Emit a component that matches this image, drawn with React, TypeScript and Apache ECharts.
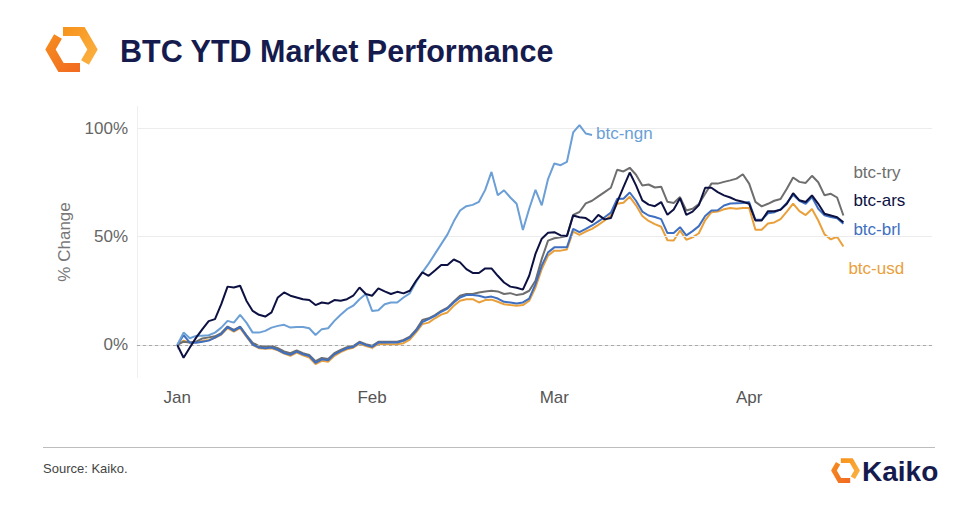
import React, { useEffect, useRef } from 'react';
import * as echarts from 'echarts';

// ---- data (daily % change since Jan 1, 2024) ----
const startYear = 2024;
const monthNames = ['Jan', 'Feb', 'Mar', 'Apr', 'May', 'Jun', 'Jul', 'Aug', 'Sep', 'Oct', 'Nov', 'Dec'];
const yTickLabels = [0, 50, 100];

const btcNgn = [
  0, 5.7, 3.1, 4.2, 4.2, 4.5, 5.7, 8, 11.1, 10.3,
  13.9, 10.3, 5.7, 5.7, 6.5, 8, 8.8, 9.3, 8, 8.3,
  8.3, 7.7, 4.6, 7.3, 7.7, 11.1, 13.9, 16.5, 18.1, 21.1,
  23.5, 15.7, 16, 18.8, 19.6, 19.6, 21.9, 23.8, 29, 33.5,
  37.5, 42, 46.5, 51, 57, 62, 64, 64.6, 66, 71.5,
  79.8, 69, 71.3, 68, 65.1, 53, 62.8, 71.5, 64.4, 76.5,
  83.7, 82.9, 84.4, 98, 101.4, 97.5, 96.8,
];

const btcTry = [
  0, 1.5, 1.1, 1.5, 3, 3.5, 4, 5.5, 8.5, 7,
  8.5, 4.5, 1, -0.5, -0.8, -0.5, -1.5, -3, -3.8, -2.5,
  -3.8, -4.6, -7.5, -6, -6.5, -3.8, -2.3, -1, -0.5, 1.5,
  0.4, -0.4, 1.5, 1.5, 1.5, 1.5, 2.3, 3.8, 7, 11.5,
  12.3, 13.8, 15.7, 17.2, 20, 22.7, 23.5, 23.5, 24.2, 24.7,
  25, 24.7, 23.5, 23.9, 23, 23.5, 25, 29.6, 39.7, 48.1,
  49.2, 49.7, 50.2, 60, 61.3, 65.3, 66.5, 68.5, 70.5, 72.5,
  80.8, 80, 81.7, 78.5, 73.5, 74, 72.6, 73, 66, 65.5,
  68.2, 62, 62.8, 65, 69.7, 74.4, 74.4, 75.2, 75.9, 76.7,
  78.7, 74.4, 66, 63.9, 65.1, 66.5, 67.3, 72, 77.2, 75.2,
  74.7, 78, 75, 69, 69.7, 68, 59.7,
];

const btcArs = [
  0, -5.9, -1.2, 3.4, 7.3, 11, 11.9, 18.8, 26.9, 26.5,
  27.3, 20.4, 15.7, 13.9, 13.1, 15, 21.9, 24.2, 22.7, 21.9,
  21.1, 20.7, 18.4, 19.6, 19.1, 20.7, 20.4, 21.1, 22.7, 26.5,
  23.5, 22.7, 26.1, 24.7, 23.5, 24.5, 23.8, 25, 29.6, 33.5,
  31.9, 34.3, 36.9, 36.9, 39.4, 38.1, 35, 33.2, 33.2, 35.3,
  35.3, 31.9, 28.8, 26.9, 26.4, 25.5, 31.9, 42, 49, 51.7,
  52, 50.5, 50.2, 59.7, 58.9, 58.5, 56.6, 60, 57.9, 58.5,
  65.9, 72.8, 79.5, 73.6, 66.7, 64.7, 64, 65.9, 60, 62.5,
  67.7, 60, 61.5, 64.5, 72.5, 72.5, 70.5, 69, 68, 66.7,
  66, 65.1, 57.4, 57.4, 61.7, 61.7, 62.3, 65.1, 70, 66.7,
  65.9, 69, 65.1, 60.5, 59.7, 58.9, 56.6,
];

const btcBrl = [
  0, 4.5, 1.1, 1, 1.5, 2, 3.4, 5, 8.3, 6.5,
  8.3, 4.2, 0.2, -1.2, -1.5, -1.2, -2.2, -3.7, -4.5, -3.1,
  -4.3, -5.1, -8.2, -6.6, -7.1, -4.3, -2.8, -1.5, -0.9, 1.1,
  0, -0.9, 1.1, 1.1, 1.1, 1.1, 1.9, 3.4, 6.5, 10.5,
  11.9, 13.4, 15.3, 16.8, 19.6, 21.9, 23, 23, 22.7, 21.9,
  22.3, 21.4, 19.9, 19.6, 19.1, 19.6, 21.4, 28.1, 36.6, 42.7,
  45, 45, 45, 53.5, 52, 53.5, 55.1, 57, 58.9, 61,
  67.4, 67.4, 70.3, 66.5, 61.5, 59.7, 59, 58, 51.6, 51.6,
  54.3, 50.5, 52.5, 54.8, 59.5, 62, 62.1, 64.3, 65.2, 65.4,
  65.5, 65.9, 57.7, 57.7, 60.7, 61.2, 62.5, 65.5, 69.2, 66.5,
  65.1, 68.2, 62.8, 59.8, 59, 58.4, 55.9,
];

const btcUsd = [
  0, 2, 1.1, 1.3, 1.8, 2.3, 3.3, 4.8, 7.8, 6.2,
  7.8, 3.8, 0, -1.5, -1.8, -1.5, -2.5, -4, -5, -3.5,
  -4.8, -5.8, -8.8, -7.3, -7.8, -5, -3.3, -2, -1.3, 0.6,
  -0.5, -1.3, 0.5, 0.5, 0.3, 0.3, 0.8, 2.5, 5.8, 9.6,
  10.3, 12.3, 14, 15, 18.1, 20.4, 21.1, 21.1, 19.6, 20.7,
  20.9, 19.9, 18.8, 18.4, 18.1, 18.4, 20.4, 26.5, 35, 41.2,
  43.5, 43.5, 44, 52.3, 50.8, 52.3, 53.5, 55.4, 57.4, 59.7,
  65.1, 65.6, 68.3, 64.4, 59.5, 57.2, 55.7, 54.5, 48.3, 48.2,
  52.8, 48.5, 49.6, 51.5, 57.5, 61.2, 61.5, 62.6, 63.2, 62.8,
  63.2, 63.2, 53.1, 53.1, 56, 56.5, 58, 61.5, 65.2, 61.7,
  59.9, 62.7, 57.4, 51, 48.7, 49.9, 45.4,
];

const FONT = "'Liberation Sans', Arial, Helvetica, sans-serif";
const DAY = 86400000;
const dayTime = (i: number) => new Date(startYear, 0, 1 + i).getTime();
const toPairs = (vals: number[]) => vals.map((v, i) => [dayTime(i), v]);

function logo(cx: number, cy: number, s: number) {
  return {
    type: 'group',
    x: cx,
    y: cy,
    scaleX: s,
    scaleY: s,
    children: [
      {
        type: 'polyline',
        shape: { points: [[-13.5, -13], [-21, 0], [-10.5, 18], [8.5, 18]] },
        style: {
          fill: null,
          stroke: new echarts.graphic.LinearGradient(0, 0, 1, 1, [
            { offset: 0, color: '#f58a1f' },
            { offset: 1, color: '#f26b21' },
          ]),
          lineWidth: 9,
          lineJoin: 'miter',
          lineCap: 'butt',
        },
      },
      {
        type: 'polyline',
        shape: { points: [[-8.5, -18], [10.5, -18], [21, 0], [13.5, 13]] },
        style: {
          fill: null,
          stroke: new echarts.graphic.LinearGradient(0, 0, 1, 1, [
            { offset: 0, color: '#f7941d' },
            { offset: 1, color: '#fbb040' },
          ]),
          lineWidth: 9,
          lineJoin: 'miter',
          lineCap: 'butt',
        },
      },
    ],
  };
}

function lineSeries(name: string, vals: number[], color: string, offset: number[], z: number) {
  return {
    type: 'line',
    name,
    data: toPairs(vals),
    symbol: 'none',
    showSymbol: false,
    z,
    lineStyle: { color, width: 2 },
    itemStyle: { color },
    emphasis: { disabled: true },
    endLabel: {
      show: true,
      formatter: name,
      color,
      fontSize: 17,
      fontFamily: FONT,
      distance: 0,
      offset,
      align: 'left',
      verticalAlign: 'middle',
    },
  };
}

export default function App() {
  const ref = useRef<HTMLDivElement>(null);
  useEffect(() => {
    if (!ref.current) return;
    const chart = echarts.init(ref.current, null, { renderer: 'svg' });
    const t0 = dayTime(0);
    chart.setOption({
      animation: false,
      backgroundColor: '#ffffff',
      textStyle: { fontFamily: FONT },
      grid: { left: 137, right: 29, top: 106.4, bottom: 127.5 },
      xAxis: {
        type: 'time',
        min: t0 - 6.41 * DAY,
        max: t0 + 120.1 * DAY,
        axisLine: { show: true, lineStyle: { color: '#e6e6e6', width: 1 } },
        axisTick: { show: true, length: 5, lineStyle: { color: '#e2e2e2' } },
        axisLabel: {
          formatter: (v: number) => {
            const d = new Date(v);
            return d.getDate() === 1 ? monthNames[d.getMonth()] : '';
          },
          color: '#555555',
          fontSize: 17,
          margin: 11,
          fontFamily: FONT,
          hideOverlap: false,
        },
        splitLine: { show: false },
        minorTick: { show: false },
      },
      yAxis: {
        type: 'value',
        min: -15,
        max: 110,
        interval: 5,
        axisLine: { show: true, lineStyle: { color: '#efefef' } },
        axisTick: { show: false },
        splitLine: { show: false },
        axisLabel: {
          formatter: (v: number) => (yTickLabels.includes(v) ? v + '%' : ''),
          color: '#666666',
          fontSize: 17,
          margin: 9,
          fontFamily: FONT,
        },
        name: '% Change',
        nameLocation: 'middle',
        nameGap: 64,
        nameRotate: 90,
        nameTextStyle: { color: '#777777', fontSize: 17, fontFamily: FONT },
      },
      series: [
        {
          type: 'line',
          data: [],
          z: 1,
          silent: true,
          markLine: {
            silent: true,
            symbol: 'none',
            label: { show: false },
            emphasis: { disabled: true },
            data: [
              { yAxis: 100, lineStyle: { color: '#ececec', type: 'solid', width: 1 } },
              { yAxis: 50, lineStyle: { color: '#ececec', type: 'solid', width: 1 } },
              { yAxis: 0, lineStyle: { color: '#a8a8a8', type: [3, 3], width: 1 } },
            ],
          },
        },
        lineSeries('btc-usd', btcUsd, '#e9a03b', [5, 22], 3),
        lineSeries('btc-try', btcTry, '#6e6e6e', [10, -43], 4),
        lineSeries('btc-brl', btcBrl, '#3f6fc0', [10, 6], 5),
        lineSeries('btc-ngn', btcNgn, '#6b9fd6', [4, -2], 6),
        lineSeries('btc-ars', btcArs, '#0c1142', [10, -22], 7),
      ],
      graphic: [
        logo(71.5, 49.5, 1),
        {
          type: 'text',
          x: 120,
          y: 51,
          style: {
            text: 'BTC YTD Market Performance',
            fill: '#161b4e',
            font: "bold 30.5px 'Liberation Sans', Arial, sans-serif",
            textVerticalAlign: 'middle',
          },
        },
        {
          type: 'line',
          shape: { x1: 43, y1: 447.5, x2: 935, y2: 447.5 },
          style: { stroke: '#bdbdbd', lineWidth: 1 },
        },
        {
          type: 'text',
          x: 43,
          y: 468,
          style: {
            text: 'Source: Kaiko.',
            fill: '#444444',
            font: "13px 'Liberation Sans', Arial, sans-serif",
            textVerticalAlign: 'middle',
          },
        },
        logo(845.5, 470.5, 0.55),
        {
          type: 'text',
          x: 862,
          y: 471,
          style: {
            text: 'Kaiko',
            fill: '#161b4e',
            font: "bold 28px 'Liberation Sans', Arial, sans-serif",
            textVerticalAlign: 'middle',
          },
        },
      ],
    });
    return () => chart.dispose();
  }, []);
  return (
    <div
      ref={ref}
      style={{ position: 'fixed', left: 0, top: 0, width: 961, height: 505, background: '#fff' }}
    />
  );
}
